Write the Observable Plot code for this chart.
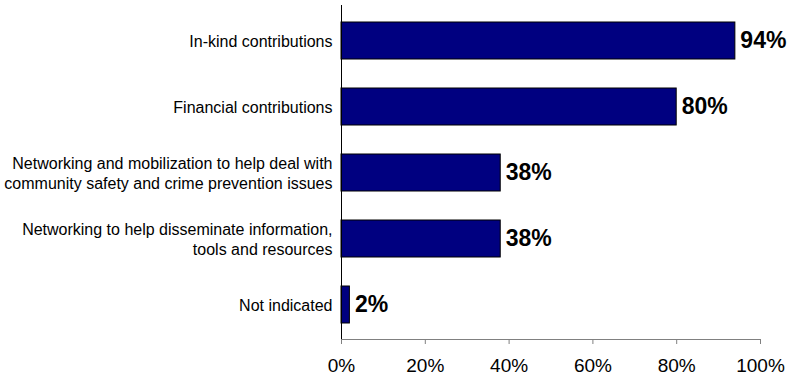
<!DOCTYPE html>
<html>
<head>
<meta charset="utf-8">
<script src="https://cdn.jsdelivr.net/npm/d3@7"></script>
<script src="https://cdn.jsdelivr.net/npm/@observablehq/plot@0.6"></script>
<style>
  body { margin: 0; background: #fff; }
</style>
</head>
<body>
<div id="chart"></div>
<script>
const categories = [
  "In-kind contributions",
  "Financial contributions",
  "Networking and mobilization to help deal with\ncommunity safety and crime prevention issues",
  "Networking to help disseminate information,\ntools and resources",
  "Not indicated"
];
const values = [0.94, 0.80, 0.38, 0.38, 0.02];
const xTicks = [0, 0.2, 0.4, 0.6, 0.8, 1.0];

const data = categories.map((c, i) => ({category: c, value: values[i]}));
const fmt = d3.format(".0%");

const chart = Plot.plot({
  width: 790,
  height: 379,
  marginLeft: 341,
  marginRight: 30,
  marginTop: 5,
  marginBottom: 40,
  style: {fontFamily: "'Liberation Sans', Arial, sans-serif", background: "#fff", color: "#000"},
  x: {domain: [0, 1], ticks: xTicks, tickFormat: fmt},
  y: {domain: categories, paddingInner: 0.44, paddingOuter: 0.22},
  marks: [
    Plot.axisX({ticks: xTicks, tickFormat: fmt, tickSize: 5, tickPadding: 14, fontSize: 19, stroke: "#808080", fill: "#000", label: null}),
    Plot.axisY({ticks: [], label: null, tickSize: 0}),
    Plot.frame({anchor: "bottom", stroke: "#808080"}),
    Plot.barX(data, {x: "value", y: "category", fill: "#000080", stroke: "#000", strokeWidth: 1}),
    Plot.ruleX([0], {stroke: "#000"}),
    Plot.text(data, {x: 0, y: "category", text: "category", textAnchor: "end", dx: -9, fontSize: 16, lineHeight: 1.25, fill: "#000"}),
    Plot.text(data, {x: "value", y: "category", text: d => fmt(d.value), textAnchor: "start", dx: 5, fontSize: 23, fontWeight: "bold", fill: "#000"})
  ]
});
document.getElementById("chart").appendChild(chart);
</script>
</body>
</html>
